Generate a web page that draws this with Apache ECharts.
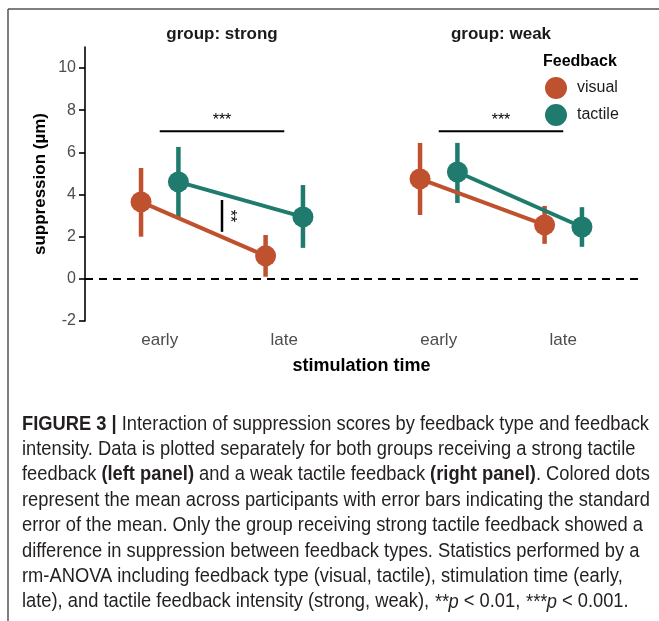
<!DOCTYPE html>
<html>
<head>
<meta charset="utf-8">
<script src="https://cdn.jsdelivr.net/npm/echarts@6/dist/echarts.min.js"></script>
<style>
  html, body { margin: 0; padding: 0; background: #ffffff; }
  #chart { width: 659px; height: 621px; }
</style>
</head>
<body>
<div id="chart"></div>
<script>
// ---- data -------------------------------------------------------------
const timePoints = ['early', 'late'];
const groups = ['strong', 'weak'];
const feedbackTypes = ['visual', 'tactile'];

// mean suppression and SEM bounds, ordered [early, late]
const visualMean  = { strong: [3.65, 1.09], weak: [4.74, 2.56] };
const visualLow   = { strong: [2.00, 0.10], weak: [3.03, 1.66] };
const visualHigh  = { strong: [5.26, 2.08], weak: [6.45, 3.46] };
const tactileMean = { strong: [4.60, 2.94], weak: [5.07, 2.46] };
const tactileLow  = { strong: [2.90, 1.47], weak: [3.60, 1.52] };
const tactileHigh = { strong: [6.26, 4.45], weak: [6.45, 3.40] };

const yTicks = [-2, 0, 2, 4, 6, 8, 10];

// significance annotations
const timeBrackets = [
  { group: 'strong', from: 'early', to: 'late', y: 7, label: '***' },
  { group: 'weak',   from: 'early', to: 'late', y: 7, label: '***' }
];
const feedbackBrackets = [
  { group: 'strong', x: 1.5, from: 2.23, to: 3.74, label: '**' }
];

const captionLines = [
  '{b|FIGURE 3 |} Interaction of suppression scores by feedback type and feedback',
  'intensity. Data is plotted separately for both groups receiving a strong tactile',
  'feedback {b|(left panel)} and a weak tactile feedback {b|(right panel)}. Colored dots',
  'represent the mean across participants with error bars indicating the standard',
  'error of the mean. Only the group receiving strong tactile feedback showed a',
  'difference in suppression between feedback types. Statistics performed by a',
  'rm-ANOVA including feedback type (visual, tactile), stimulation time (early,',
  'late), and tactile feedback intensity (strong, weak), {i|**p} < 0.01, {i|***p} < 0.001.'
];

// ---- styling / layout ---------------------------------------------------
const colors = { visual: '#C0512F', tactile: '#1E7B6D' };
const dodge = { visual: -0.15, tactile: 0.15 };
const panelLeft = [85, 364];
const panelWidth = 274;
const panelTop = 47;
const panelHeight = 274;
const sansFont = 'Arial, "Liberation Sans", Helvetica, sans-serif';
const captionFont = '"Liberation Sans", Arial, sans-serif';
const captionSize = 20.5;
const captionWidth = 627;   // width of the first caption line

const stats = {
  visual:  { mean: visualMean,  low: visualLow,  high: visualHigh },
  tactile: { mean: tactileMean, low: tactileLow, high: tactileHigh }
};
const catPos = name => timePoints.indexOf(name) + 1;

const grids = [], xAxes = [], yAxes = [], series = [];

groups.forEach((g, gi) => {
  grids.push({ left: panelLeft[gi], top: panelTop, width: panelWidth, height: panelHeight });
  xAxes.push({
    type: 'value', gridIndex: gi, min: 0.4, max: 2.6,
    axisLine: { show: false }, axisTick: { show: false }, splitLine: { show: false },
    axisLabel: {
      customValues: [1, 2],
      formatter: v => timePoints[Math.round(v) - 1] || '',
      color: '#4D4D4D', fontSize: 17, fontFamily: sansFont, margin: 11
    }
  });
  yAxes.push({
    type: 'value', gridIndex: gi, min: -2, max: 11, interval: 2,
    show: gi === 0,
    splitLine: { show: false },
    axisLine: { show: true, onZero: false, lineStyle: { color: '#000', width: 1.6 } },
    axisTick: { show: true, customValues: yTicks, length: 6, lineStyle: { color: '#000', width: 1.6 } },
    axisLabel: { customValues: yTicks, color: '#4D4D4D', fontSize: 16, fontFamily: sansFont, margin: 9 },
    name: gi === 0 ? 'suppression (µm)' : '',
    nameLocation: 'middle', nameGap: 36, nameRotate: 90,
    nameTextStyle: { fontSize: 17, fontWeight: 'bold', color: '#000', fontFamily: sansFont }
  });

  // zero reference line
  series.push({
    type: 'line', xAxisIndex: gi, yAxisIndex: gi, data: [], silent: true,
    markLine: {
      silent: true, symbol: 'none', label: { show: false },
      lineStyle: { color: '#000', type: [8, 6], width: 1.8 },
      data: [{ yAxis: 0 }]
    }
  });

  feedbackTypes.forEach(f => {
    const s = stats[f];
    // error bars
    series.push({
      name: f, type: 'custom', xAxisIndex: gi, yAxisIndex: gi, z: 2,
      itemStyle: { color: colors[f] },
      data: timePoints.map((t, ti) => [ti + 1 + dodge[f], s.low[g][ti], s.high[g][ti]]),
      encode: { x: 0, y: [1, 2] },
      renderItem: (params, api) => {
        const a = api.coord([api.value(0), api.value(1)]);
        const b = api.coord([api.value(0), api.value(2)]);
        return { type: 'line', shape: { x1: a[0], y1: a[1], x2: b[0], y2: b[1] },
                 style: { stroke: colors[f], lineWidth: 4.5 } };
      }
    });
  });
  feedbackTypes.forEach(f => {
    const s = stats[f];
    series.push({
      name: f, type: 'line', xAxisIndex: gi, yAxisIndex: gi, z: 3,
      showSymbol: false, symbol: 'none',
      itemStyle: { color: colors[f] },
      lineStyle: { color: colors[f], width: 4 },
      data: timePoints.map((t, ti) => [ti + 1 + dodge[f], s.mean[g][ti]])
    });
  });
  feedbackTypes.forEach(f => {
    const s = stats[f];
    series.push({
      name: f, type: 'scatter', xAxisIndex: gi, yAxisIndex: gi, z: 4,
      symbol: 'circle', symbolSize: 21,
      itemStyle: { color: colors[f], opacity: 1 },
      data: timePoints.map((t, ti) => [ti + 1 + dodge[f], s.mean[g][ti]])
    });
  });

  // early vs late bracket
  const tb = timeBrackets.filter(b => b.group === g);
  if (tb.length) {
    series.push({
      type: 'custom', xAxisIndex: gi, yAxisIndex: gi, z: 5, silent: true,
      data: tb.map(b => [catPos(b.from), catPos(b.to), b.y]),
      renderItem: (params, api) => {
        const p1 = api.coord([api.value(0), api.value(2)]);
        const p2 = api.coord([api.value(1), api.value(2)]);
        return { type: 'group', children: [
          { type: 'line', shape: { x1: p1[0], y1: p1[1], x2: p2[0], y2: p2[1] },
            style: { stroke: '#000', lineWidth: 2 } },
          { type: 'text', style: { text: tb[params.dataIndex].label, x: (p1[0] + p2[0]) / 2, y: p1[1] - 3,
            align: 'center', verticalAlign: 'bottom', fill: '#000', font: '16px ' + sansFont } }
        ] };
      }
    });
  }
  // visual vs tactile bracket
  const fb = feedbackBrackets.filter(b => b.group === g);
  if (fb.length) {
    series.push({
      type: 'custom', xAxisIndex: gi, yAxisIndex: gi, z: 5, silent: true,
      data: fb.map(b => [b.x, b.from, b.to]),
      renderItem: (params, api) => {
        const p1 = api.coord([api.value(0), api.value(1)]);
        const p2 = api.coord([api.value(0), api.value(2)]);
        return { type: 'group', children: [
          { type: 'line', shape: { x1: p1[0], y1: p1[1], x2: p2[0], y2: p2[1] },
            style: { stroke: '#000', lineWidth: 2.5 } },
          { type: 'text', x: p1[0] + 7, y: (p1[1] + p2[1]) / 2, rotation: -Math.PI / 2,
            style: { text: fb[params.dataIndex].label, x: 0, y: 0, align: 'center', verticalAlign: 'middle',
                     fill: '#000', font: '16px ' + sansFont } }
        ] };
      }
    });
  }
});

// horizontal squeeze so the caption is set like a condensed face
const measureCtx = document.createElement('canvas').getContext('2d');
const firstLine = captionLines[0];
measureCtx.font = 'bold ' + captionSize + 'px ' + captionFont;
const boldPart = firstLine.match(/\{b\|([^}]*)\}/)[1];
let firstWidth = measureCtx.measureText(boldPart).width;
measureCtx.font = captionSize + 'px ' + captionFont;
firstWidth += measureCtx.measureText(firstLine.replace(/\{b\|[^}]*\}/, '')).width;
const squeeze = captionWidth / firstWidth;

// caption and frame
const graphics = [
  { type: 'line', shape: { x1: 8, y1: 9, x2: 659, y2: 9 }, style: { stroke: '#555', lineWidth: 1.5 } },
  { type: 'line', shape: { x1: 8, y1: 9, x2: 8, y2: 621 }, style: { stroke: '#555', lineWidth: 1.5 } }
];
groups.forEach((g, gi) => {
  graphics.push({ type: 'text', x: panelLeft[gi] + panelWidth / 2, y: 34,
    style: { text: 'group: ' + g, align: 'center', verticalAlign: 'middle', fill: '#1a1a1a',
             font: 'bold 17px ' + sansFont } });
});
graphics.push({ type: 'text', x: (panelLeft[0] + panelLeft[1] + panelWidth) / 2, y: 366,
  style: { text: 'stimulation time', align: 'center', verticalAlign: 'middle', fill: '#000',
           font: 'bold 18px ' + sansFont } });
graphics.push({ type: 'text', x: 543, y: 62,
  style: { text: 'Feedback', align: 'left', verticalAlign: 'middle', fill: '#000',
           font: 'bold 16px ' + sansFont } });
captionLines.forEach((line, i) => {
  graphics.push({ type: 'text', x: 22, y: 424 + i * 25.4, scaleX: squeeze,
    style: { text: line, align: 'left', verticalAlign: 'middle', fill: '#231F20',
             font: captionSize + 'px ' + captionFont,
             rich: {
               b: { fontWeight: 'bold', fontSize: captionSize, fontFamily: captionFont, fill: '#231F20' },
               i: { fontStyle: 'italic', fontSize: captionSize, fontFamily: captionFont, fill: '#231F20' }
             } } });
});

const chart = echarts.init(document.getElementById('chart'), null, { renderer: 'canvas' });
chart.setOption({
  backgroundColor: '#ffffff',
  animation: false,
  grid: grids,
  xAxis: xAxes,
  yAxis: yAxes,
  legend: {
    data: feedbackTypes, orient: 'vertical', left: 540, top: 72,
    icon: 'circle', itemWidth: 32, itemHeight: 22, itemGap: 5,
    textStyle: { fontSize: 16, color: '#1a1a1a', fontFamily: sansFont }
  },
  series: series,
  graphic: graphics
});
</script>
</body>
</html>
